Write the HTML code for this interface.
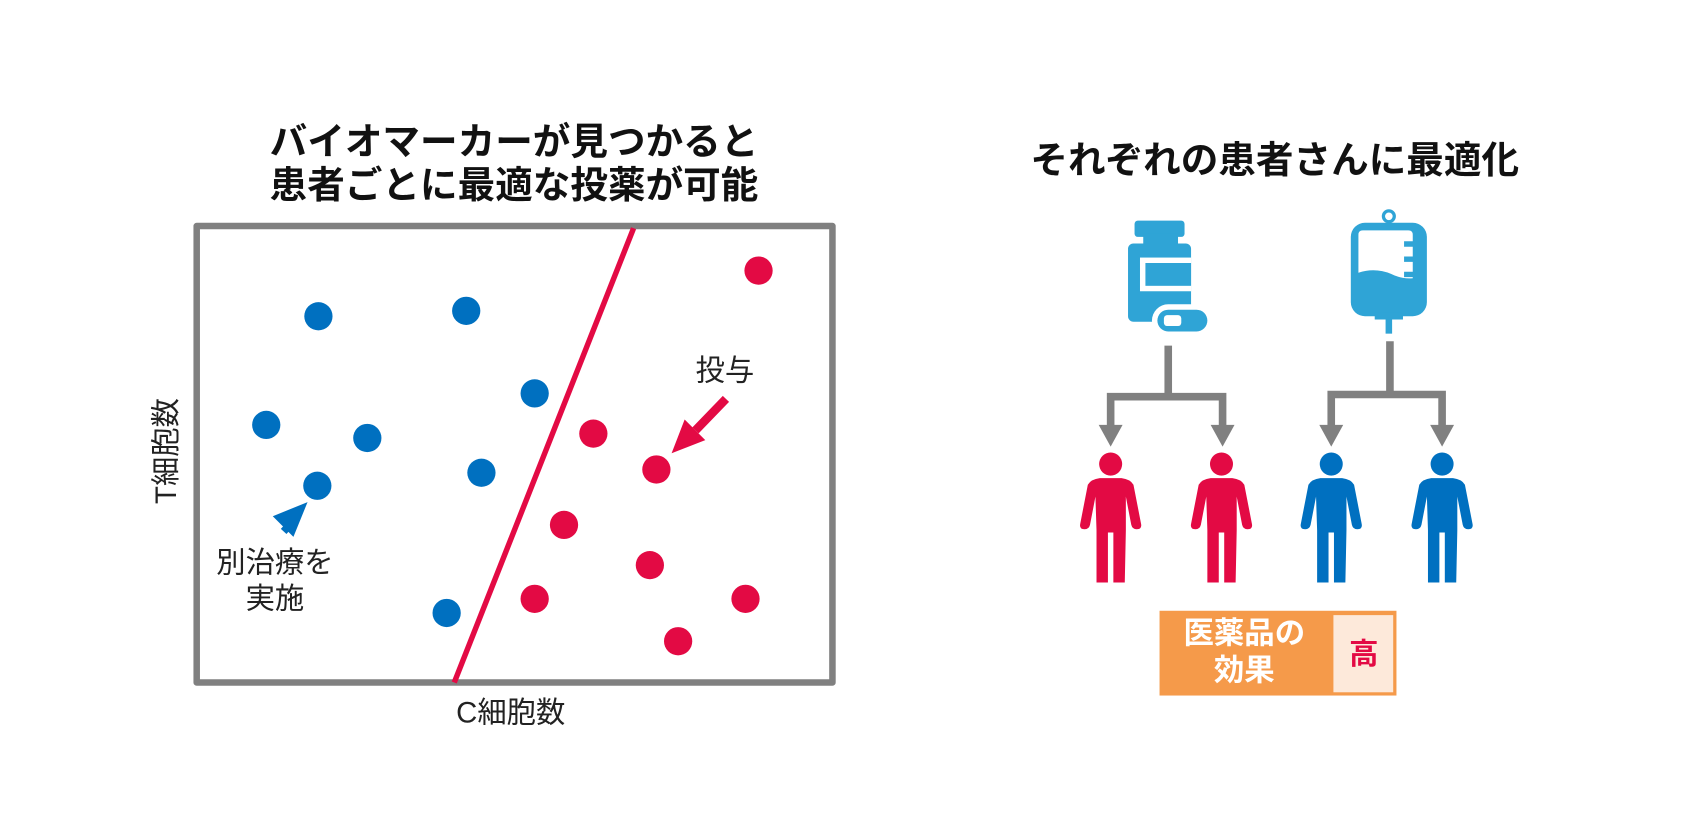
<!DOCTYPE html>
<html><head><meta charset="utf-8"><style>
html,body{margin:0;padding:0;background:#fff;}
svg{display:block;}
text{font-family:"Liberation Sans","Noto Sans CJK JP",sans-serif;}
</style></head><body>
<svg width="1704" height="814" viewBox="0 0 1568 749" preserveAspectRatio="none" xmlns="http://www.w3.org/2000/svg">
<defs>
<path id="person" d="M -21,446 Q -18,441 -10,440 L 10,440 Q 18,441 21,446 L 28,482 Q 29,487 24,487 Q 20,487 19,483 L 14,457 L 14,488 L 13,536 L 2.5,536 L 2.5,490 L -2.5,490 L -2.5,536 L -13,536 L -13,488 L -14,457 L -19,483 Q -20,487 -24,487 Q -29,487 -28,482 Z"/>
</defs>
<text x="473" y="142" text-anchor="middle" font-size="34.6" font-weight="bold" fill="#111">バイオマーカーが見つかると</text>
<text x="473" y="182" text-anchor="middle" font-size="34.6" font-weight="bold" fill="#111">患者ごとに最適な投薬が可能</text>
<rect x="181" y="208" width="585" height="420" fill="none" stroke="#808080" stroke-width="6" stroke-linejoin="round"/>
<line x1="583" y1="210" x2="418" y2="628" stroke="#e30a44" stroke-width="5"/>
<g fill="#0070c0">
<circle cx="293" cy="291" r="13"/><circle cx="429" cy="286" r="13"/><circle cx="492" cy="362" r="13"/>
<circle cx="245" cy="391" r="13"/><circle cx="338" cy="403" r="13"/><circle cx="292" cy="447" r="13"/>
<circle cx="443" cy="435" r="13"/><circle cx="411" cy="564" r="13"/>
<line x1="261" y1="489" x2="272" y2="477" stroke="#0070c0" stroke-width="7"/>
<polygon points="283,462 251,475 270,494"/>
</g>
<g fill="#e30a44">
<circle cx="698" cy="249" r="13"/><circle cx="546" cy="399" r="13"/><circle cx="604" cy="432" r="13"/>
<circle cx="519" cy="483" r="13"/><circle cx="598" cy="520" r="13"/><circle cx="492" cy="551" r="13"/>
<circle cx="686" cy="551" r="13"/><circle cx="624" cy="590" r="13"/>
<line x1="668" y1="367" x2="640" y2="396" stroke="#e30a44" stroke-width="8"/>
<polygon points="618,417 630,386 649,405"/>
</g>
<text x="667" y="350" text-anchor="middle" font-size="27" fill="#222">投与</text>
<text x="253" y="527" text-anchor="middle" font-size="27" fill="#222">別治療を</text>
<text x="253" y="560" text-anchor="middle" font-size="27" fill="#222">実施</text>
<text x="470" y="665" text-anchor="middle" font-size="27" fill="#222">C細胞数</text>
<text transform="translate(162,415) rotate(-90)" text-anchor="middle" font-size="27" fill="#222">T細胞数</text>
<text x="1173" y="159" text-anchor="middle" font-size="34.6" font-weight="bold" fill="#111">それぞれの患者さんに最適化</text>
<g fill="#2fa4d6">
<rect x="1044" y="203" width="46" height="15" rx="3"/>
<rect x="1052" y="215" width="32" height="10"/>
<rect x="1038" y="224" width="58" height="72" rx="5"/>
<rect x="1049" y="237" width="47" height="31" fill="#fff"/>
<rect x="1054" y="242" width="42" height="21"/>
<rect x="1060" y="280" width="56" height="30" rx="15" fill="#fff"/>
<rect x="1065" y="285" width="46" height="20" rx="10"/>
<rect x="1071" y="290" width="16" height="10" rx="3" fill="#fff"/>
<circle cx="1278" cy="199" r="5" fill="none" stroke="#2fa4d6" stroke-width="3"/>
<rect x="1243" y="205" width="70" height="86" rx="13"/>
<path d="M1254,212 L1296,212 Q1300,212 1300,216 L1300,222 L1292,222 L1292,227 L1300,227 L1300,236 L1292,236 L1292,241 L1300,241 L1300,250 L1292,250 L1292,255 L1300,255 L1300,256 Q1290,257 1280,252 Q1265,246 1250,251 L1250,216 Q1250,212 1254,212 Z" fill="#fff"/>
<rect x="1265" y="288" width="26" height="6"/>
<rect x="1275" y="292" width="6" height="15"/>
</g>
<g stroke="#808080" stroke-width="7" fill="none">
<polyline points="1075,318 1075,365"/>
<polyline points="1022,394 1022,365 1125,365 1125,394"/>
<polyline points="1279,314 1279,363"/>
<polyline points="1225,394 1225,363 1327,363 1327,394"/>
</g>
<g fill="#808080">
<polygon points="1011,391 1033,391 1022,411"/>
<polygon points="1114,391 1136,391 1125,411"/>
<polygon points="1214,391 1236,391 1225,411"/>
<polygon points="1316,391 1338,391 1327,411"/>
</g>
<g fill="#e30a44">
<circle cx="1022" cy="427" r="10.6"/><use href="#person" transform="translate(1022,0)"/>
<circle cx="1124" cy="427" r="10.6"/><use href="#person" transform="translate(1124,0)"/>
</g>
<g fill="#0070c0">
<circle cx="1225" cy="427" r="10.6"/><use href="#person" transform="translate(1225,0)"/>
<circle cx="1327" cy="427" r="10.6"/><use href="#person" transform="translate(1327,0)"/>
</g>
<rect x="1067" y="562" width="218" height="78" fill="#f59a4a"/>
<rect x="1227" y="566" width="55" height="71" fill="#fde9da"/>
<text x="1145" y="592" text-anchor="middle" font-size="28" font-weight="bold" fill="#fff">医薬品の</text>
<text x="1145" y="626" text-anchor="middle" font-size="28" font-weight="bold" fill="#fff">効果</text>
<text x="1255" y="611" text-anchor="middle" font-size="27" font-weight="bold" fill="#e30a44">高</text>
</svg>
</body></html>
